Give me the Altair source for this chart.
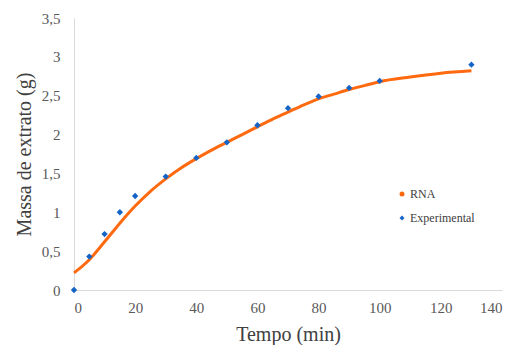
import altair as alt
import pandas as pd

exp_t = [0, 5, 10, 15, 20, 30, 40, 50, 60, 70, 80, 90, 100, 130]
exp_m = [0.0, 0.43, 0.72, 1.00, 1.21, 1.46, 1.70, 1.90, 2.12, 2.34, 2.49, 2.60, 2.69, 2.90]

rna_t = [0, 5, 10, 15, 20, 25, 30, 35, 40, 45, 50, 55, 60, 65, 70, 75, 80, 85, 90, 95, 100, 110, 120, 130]
rna_m = [0.22, 0.39, 0.62, 0.86, 1.08, 1.27, 1.43, 1.57, 1.69, 1.80, 1.90, 2.00, 2.10, 2.20, 2.29,
         2.38, 2.46, 2.52, 2.58, 2.63, 2.68, 2.74, 2.79, 2.82]

exp_df = pd.DataFrame({"t": exp_t, "m": exp_m, "s": "Experimental"})
rna_df = pd.DataFrame({"t": rna_t, "m": rna_m, "s": "RNA"})

ORANGE = "#FF6A10"
BLUE = "#1464C8"
FONT = "Liberation Serif"

leg = dict(title=None, orient="none", legendX=322, legendY=170,
           labelFont=FONT, labelFontSize=12, labelColor="#404040",
           symbolSize=25, rowPadding=12, symbolStrokeWidth=0, labelOffset=2)

color = alt.Color("s:N", scale=alt.Scale(domain=["RNA", "Experimental"], range=[ORANGE, BLUE]),
                  legend=alt.Legend(**leg))
shape = alt.Shape("s:N", scale=alt.Scale(domain=["RNA", "Experimental"], range=["circle", "diamond"]),
                  legend=alt.Legend(**leg))

x = alt.X("t:Q", scale=alt.Scale(domain=[0, 140]),
          axis=alt.Axis(title="Tempo (min)", values=[0, 20, 40, 60, 80, 100, 120, 140],
                        labelPadding=10, titlePadding=9))
y = alt.Y("m:Q", scale=alt.Scale(domain=[0, 3.5]),
          axis=alt.Axis(title="Massa de extrato (g)", values=[0, 0.5, 1, 1.5, 2, 2.5, 3, 3.5],
                        labelExpr="replace(format(datum.value, '~g'), '.', ',')",
                        labelPadding=14, titlePadding=7))

line = alt.Chart(rna_df).mark_line(strokeWidth=3, interpolate="monotone").encode(x=x, y=y, color=color)
pts = alt.Chart(exp_df).mark_point(filled=True, size=40, opacity=1).encode(x=x, y=y, color=color, shape=shape)

chart = alt.layer(line, pts).properties(
    width=428, height=272,
    autosize=alt.AutoSizeParams(type="none"),
    padding={"left": 66, "top": 10, "right": 3, "bottom": 55},
).configure_view(stroke=None).configure_axis(
    grid=False, ticks=False, domainColor="#d9d9d9", domainWidth=1,
    labelFont=FONT, labelFontSize=15, labelColor="#595959",
    titleFont=FONT, titleFontSize=20, titleColor="#404040", titleFontWeight="normal",
)

chart.save("out.html", embed_options={"renderer": "svg", "actions": False})
